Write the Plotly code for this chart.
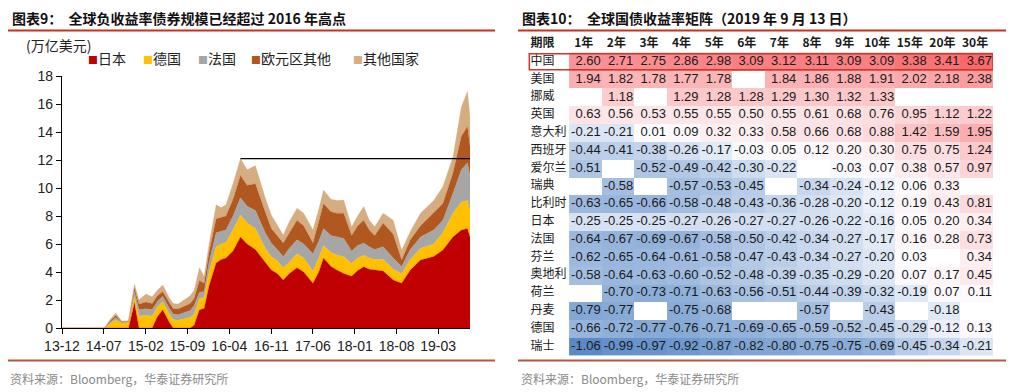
import plotly.graph_objects as go

# ---------------- Left chart data (万亿美元) ----------------
dates = ["2013-12-01", "2014-07-05", "2014-08-05", "2014-09-01", "2014-10-01", "2014-11-05",
         "2014-12-05", "2014-12-28", "2015-02-01", "2015-03-05", "2015-04-01", "2015-04-28",
         "2015-06-01", "2015-06-20", "2015-07-15", "2015-08-15", "2015-09-15", "2015-10-05",
         "2015-11-01", "2015-11-25", "2015-12-20", "2016-01-25", "2016-02-20", "2016-03-15",
         "2016-04-20", "2016-05-28", "2016-07-01", "2016-08-12", "2016-10-01", "2016-11-01",
         "2016-12-01", "2017-01-01", "2017-02-01", "2017-03-12", "2017-04-15", "2017-06-01",
         "2017-07-01", "2017-07-25", "2017-09-01", "2017-10-01", "2017-11-05", "2017-12-15",
         "2018-01-15", "2018-02-15", "2018-03-15", "2018-04-12", "2018-05-25", "2018-07-15",
         "2018-08-27", "2018-10-10", "2018-12-01", "2019-02-06", "2019-03-25", "2019-05-15",
         "2019-06-27", "2019-07-28", "2019-08-10"]
japan = [0, 0, 0, 0, 0, 0,
         1.8, 0, 0, 0, 0.8, 1.3,
         0.4, 0, 0, 0, 0, 0.2,
         1.3, 1.4, 3.0, 4.64, 4.9, 5.0,
         5.5, 6.5, 6.0, 5.6, 4.7, 4.14,
         3.9, 3.43, 3.9, 4.3, 4.0, 3.2,
         4.0, 5.0, 4.4, 4.14, 3.9, 3.7,
         4.1, 4.38, 4.2, 4.14, 4.07, 3.43,
         3.2, 4.14, 4.86, 5.1, 5.57, 6.5,
         7.0, 7.1, 6.5]
germany = [0, 0, 0.35, 0.57, 0.35, 0.40,
           0.44, 0.85, 0.90, 0.85, 0.7, 0.6,
           0.6, 0.6, 0.55, 0.65, 0.75, 0.8,
           0.8, 0.8, 1.0, 1.16, 1.1, 1.1,
           1.5, 1.57, 1.5, 1.5, 1.0, 0.96,
           0.9, 0.87, 0.8, 1.0, 1.0, 0.87,
           1.0, 0.9, 1.0, 1.06, 1.2, 0.9,
           0.9, 0.82, 0.8, 0.76, 0.83, 0.77,
           0.7, 0.76, 0.84, 0.9, 1.23, 1.7,
           2.0, 2.0, 1.9]
france = [0, 0, 0.10, 0.18, 0.05, 0.05,
          0.36, 0.45, 0.47, 0.45, 0.4, 0.36,
          0.4, 0.4, 0.40, 0.45, 0.5, 0.6,
          0.45, 0.4, 0.7, 1.0, 0.9, 0.9,
          1.0, 1.23, 1.2, 1.3, 1.1, 0.97,
          0.8, 0.8, 1.0, 1.0, 1.0, 1.23,
          1.2, 1.2, 1.2, 1.3, 1.3, 0.9,
          0.9, 0.87, 0.8, 0.7, 0.9, 0.8,
          0.5, 0.7, 0.8, 1.0, 0.9, 1.4,
          2.3, 2.7, 2.5]
ez_other = [0, 0, 0.10, 0.15, 0.05, 0.03,
            0.25, 0.40, 0.49, 0.45, 0.4, 0.34,
            0.4, 0.4, 0.40, 0.45, 0.5, 0.5,
            0.85, 0.6, 0.7, 1.0, 1.0, 1.0,
            1.2, 1.6, 1.5, 1.9, 1.5, 1.03,
            1.0, 0.97, 1.1, 1.4, 1.3, 0.77,
            1.4, 1.8, 1.7, 1.7, 1.8, 1.1,
            1.4, 1.63, 1.2, 1.0, 1.7, 1.7,
            0.46, 0.7, 0.8, 1.2, 1.2, 1.45,
            2.4, 2.6, 2.1]
other = [0, 0, 0.10, 0.17, 0.05, 0.04,
         0.29, 0.30, 0.57, 0.49, 0.4, 0.47,
         0.35, 0.35, 0.37, 0.45, 0.55, 0.6,
         0.9, 0.47, 0.6, 1.0, 0.7, 0.8,
         1.1, 1.2, 1.1, 1.3, 1.0, 0.97,
         0.8, 0.57, 0.8, 0.85, 0.9, 0.93,
         0.9, 0.96, 0.9, 0.9, 0.94, 0.64,
         0.7, 0.97, 0.7, 0.64, 0.7, 1.0,
         0.71, 0.6, 0.9, 0.9, 1.2, 1.15,
         2.1, 2.5, 2.1]
series_names = ["日本", "德国", "法国", "欧元区其他", "其他国家"]
series_values = [japan, germany, france, ez_other, other]
series_colors = ["#C00000", "#FFC000", "#A6A6A6", "#B0581F", "#D5AD80"]
high_2016 = 12.1
high_start = "2016-05-28"
x_tick_dates = ["2013-12-01", "2014-07-01", "2015-02-01", "2015-09-01", "2016-04-01",
                "2016-11-01", "2017-06-01", "2018-01-01", "2018-08-01", "2019-03-01"]
x_tick_labels = ["13-12", "14-07", "15-02", "15-09", "16-04", "16-11", "17-06", "18-01", "18-08", "19-03"]
y_ticks = [0, 2, 4, 6, 8, 10, 12, 14, 16, 18]

# ---------------- Right table data (%) ----------------
tenors = ["1年", "2年", "3年", "4年", "5年", "6年", "7年", "8年", "9年", "10年", "15年", "20年", "30年"]
countries = ["中国", "美国", "挪威", "英国", "意大利", "西班牙", "爱尔兰", "瑞典", "比利时",
             "日本", "法国", "芬兰", "奥地利", "荷兰", "丹麦", "德国", "瑞士"]
N = None
yields = [
    [2.60, 2.71, 2.75, 2.86, 2.98, 3.09, 3.12, 3.11, 3.09, 3.09, 3.38, 3.41, 3.67],
    [1.94, 1.82, 1.78, 1.77, 1.78, N, 1.84, 1.86, 1.88, 1.91, 2.02, 2.18, 2.38],
    [N, 1.18, N, 1.29, 1.28, 1.28, 1.29, 1.30, 1.32, 1.33, N, N, N],
    [0.63, 0.56, 0.53, 0.55, 0.55, 0.50, 0.55, 0.61, 0.68, 0.76, 0.95, 1.12, 1.22],
    [-0.21, -0.21, 0.01, 0.09, 0.32, 0.33, 0.58, 0.66, 0.68, 0.88, 1.42, 1.59, 1.95],
    [-0.44, -0.41, -0.38, -0.26, -0.17, -0.03, 0.05, 0.12, 0.20, 0.30, 0.75, 0.75, 1.24],
    [-0.51, N, -0.52, -0.49, -0.42, -0.30, -0.22, N, -0.03, 0.07, 0.38, 0.57, 0.97],
    [N, -0.58, N, -0.57, -0.53, -0.45, N, -0.34, -0.24, -0.12, 0.06, 0.33, N],
    [-0.63, -0.65, -0.66, -0.58, -0.48, -0.43, -0.36, -0.28, -0.20, -0.12, 0.19, 0.43, 0.81],
    [-0.25, -0.25, -0.25, -0.27, -0.26, -0.27, -0.27, -0.26, -0.22, -0.16, 0.05, 0.20, 0.34],
    [-0.64, -0.67, -0.69, -0.67, -0.58, -0.50, -0.42, -0.34, -0.27, -0.17, 0.16, 0.28, 0.73],
    [-0.62, -0.65, -0.64, -0.61, -0.58, -0.47, -0.43, -0.34, -0.27, -0.20, 0.03, N, 0.34],
    [-0.58, -0.64, -0.63, -0.60, -0.52, -0.48, -0.39, -0.35, -0.29, -0.20, 0.07, 0.17, 0.45],
    [N, -0.70, -0.73, -0.71, -0.63, -0.56, -0.51, -0.44, -0.39, -0.32, -0.19, 0.07, 0.11],
    [-0.79, -0.77, N, -0.75, -0.68, N, N, -0.57, N, -0.43, N, -0.18, N],
    [-0.66, -0.72, -0.77, -0.76, -0.71, -0.69, -0.65, -0.59, -0.52, -0.45, -0.29, -0.12, 0.13],
    [-1.06, -0.99, -0.97, -0.92, -0.87, -0.82, -0.80, -0.75, -0.75, -0.69, -0.45, -0.34, -0.21],
]

# page body has an 8px default margin: draw the figure at 1013x384 and map
# reference pixel positions through that offset
OFF = 8
W, H = 1021 - OFF, 392 - OFF
def px(x):
    return (x - OFF) / W
def py(y):
    return 1 - (y - OFF) / H

CJK = "Noto Sans CJK SC"
NUM = "Arial, Liberation Sans, sans-serif"

fig = go.Figure()

# ---- stacked areas ----
for name, vals, col in zip(series_names, series_values, series_colors):
    fig.add_trace(go.Scatter(
        x=dates, y=vals, name=name, stackgroup="one", mode="lines",
        line=dict(width=0.3, color=col), fillcolor=col, showlegend=False,
        hoverinfo="skip", xaxis="x", yaxis="y"))

# 2016 high line
fig.add_trace(go.Scatter(
    x=[high_start, dates[-1]], y=[high_2016, high_2016], mode="lines",
    line=dict(color="#000000", width=1.3), showlegend=False, hoverinfo="skip",
    xaxis="x", yaxis="y"))

# ---- heatmap ----
flat = [v for row in yields for v in row if v is not None]
zmin, zmax = min(flat), max(flat)
mid = (0 - zmin) / (zmax - zmin)
fig.add_trace(go.Heatmap(
    z=yields, x=list(range(len(tenors))), y=list(range(len(countries))),
    zmin=zmin, zmax=zmax,
    colorscale=[[0, "#5A8AC6"], [mid, "#FCFCFF"], [1, "#F8696B"]],
    showscale=False, hoverinfo="skip", xaxis="x2", yaxis="y2"))

tx, ty, tt = [], [], []
for i, row in enumerate(yields):
    for j, v in enumerate(row):
        if v is not None:
            tx.append(j + 0.47)
            ty.append(i)
            tt.append(f"{v:.2f}")
fig.add_trace(go.Scatter(
    x=tx, y=ty, text=tt, mode="text", textposition="middle left",
    textfont=dict(family=NUM, size=13, color="#1a1a1a"),
    showlegend=False, hoverinfo="skip", xaxis="x2", yaxis="y2"))

# header
fig.add_trace(go.Scatter(
    x=[j - 0.05 for j in range(len(tenors))], y=[-1] * len(tenors),
    text=[f"<b>{t}</b>" for t in tenors], mode="text", textposition="middle center",
    textfont=dict(family=CJK, size=12, color="#1a1a1a"),
    showlegend=False, hoverinfo="skip", xaxis="x2", yaxis="y2"))
fig.add_trace(go.Scatter(
    x=[-1.68] * (len(countries) + 1), y=[-1] + list(range(len(countries))),
    text=["<b>期限</b>"] + countries, mode="text", textposition="middle right",
    textfont=dict(family=CJK, size=12, color="#1a1a1a"),
    showlegend=False, hoverinfo="skip", xaxis="x2", yaxis="y2"))

# ---- annotations ----
ann = []
ann.append(dict(text="<b>图表9：\u00a0\u00a0全球负收益率债券规模已经超过 2016 年高点</b>",
                x=px(10), y=py(18), xref="paper", yref="paper", xanchor="left", yanchor="middle",
                showarrow=False, font=dict(family=CJK, size=14, color="#111")))
ann.append(dict(text="<b>图表10：\u00a0\u00a0全球国债收益率矩阵（2019 年 9 月 13 日）</b>",
                x=px(520), y=py(18), xref="paper", yref="paper", xanchor="left", yanchor="middle",
                showarrow=False, font=dict(family=CJK, size=14, color="#111")))
ann.append(dict(text="(万亿美元)", x=px(24), y=py(45), xref="paper", yref="paper",
                xanchor="left", yanchor="middle", showarrow=False,
                font=dict(family=CJK, size=14, color="#222")))
legend_x = [86, 141, 196, 249, 351]
for lx, name, col in zip(legend_x, series_names, series_colors):
    ann.append(dict(text=f'<span style="color:{col};font-size:10px">■</span>{name}',
                    x=px(lx), y=py(58), xref="paper", yref="paper", xanchor="left",
                    yanchor="middle", showarrow=False,
                    font=dict(family=CJK, size=14, color="#222")))
for sx in [8, 519]:
    ann.append(dict(text="资料来源：Bloomberg，华泰证券研究所", x=px(sx), y=py(378),
                    xref="paper", yref="paper", xanchor="left", yanchor="middle",
                    showarrow=False, font=dict(family=CJK, size=12, color="#8a8a8a")))

shapes = []
for x0, x1 in [(8, 495), (518, 1006)]:
    shapes.append(dict(type="line", xref="paper", yref="paper", x0=px(x0), x1=px(x1),
                       y0=py(30.5), y1=py(30.5), line=dict(color="#C8311F", width=2)))
    shapes.append(dict(type="line", xref="paper", yref="paper", x0=px(x0), x1=px(x1),
                       y0=py(360.5), y1=py(360.5), line=dict(color="#B8573F", width=2)))
shapes.append(dict(type="rect", xref="x2", yref="y2", x0=-1.72, x1=12.5, y0=-0.45, y1=0.45,
                   line=dict(color="#D0342C", width=1.5)))

fig.update_layout(
    width=W, height=H, margin=dict(l=0, r=0, t=0, b=0, autoexpand=False),
    paper_bgcolor="white", plot_bgcolor="white", showlegend=False,
    annotations=ann, shapes=shapes,
    xaxis=dict(domain=[px(62), px(470)], type="date", range=[dates[0], dates[-1]],
               tickvals=x_tick_dates, ticktext=x_tick_labels, ticks="outside", ticklen=5,
               tickcolor="#000", showline=True, linecolor="#000", linewidth=1.3,
               showgrid=False, zeroline=False, automargin=False,
               tickfont=dict(family=NUM, size=14, color="#222")),
    yaxis=dict(domain=[py(328), py(76)], range=[0, 18], tickvals=y_ticks,
               ticks="outside", ticklen=5, tickcolor="#000", showline=True,
               linecolor="#000", linewidth=1.3, showgrid=False, zeroline=False,
               automargin=False,
               tickfont=dict(family=NUM, size=14, color="#222")),
    xaxis2=dict(domain=[px(528), px(993)], range=[-1.76, 12.5], visible=False,
                anchor="y2", automargin=False),
    yaxis2=dict(domain=[py(355.4), py(35)], range=[16.5, -1.5], visible=False,
                anchor="x2", automargin=False),
)

fig.write_html("out.html")
